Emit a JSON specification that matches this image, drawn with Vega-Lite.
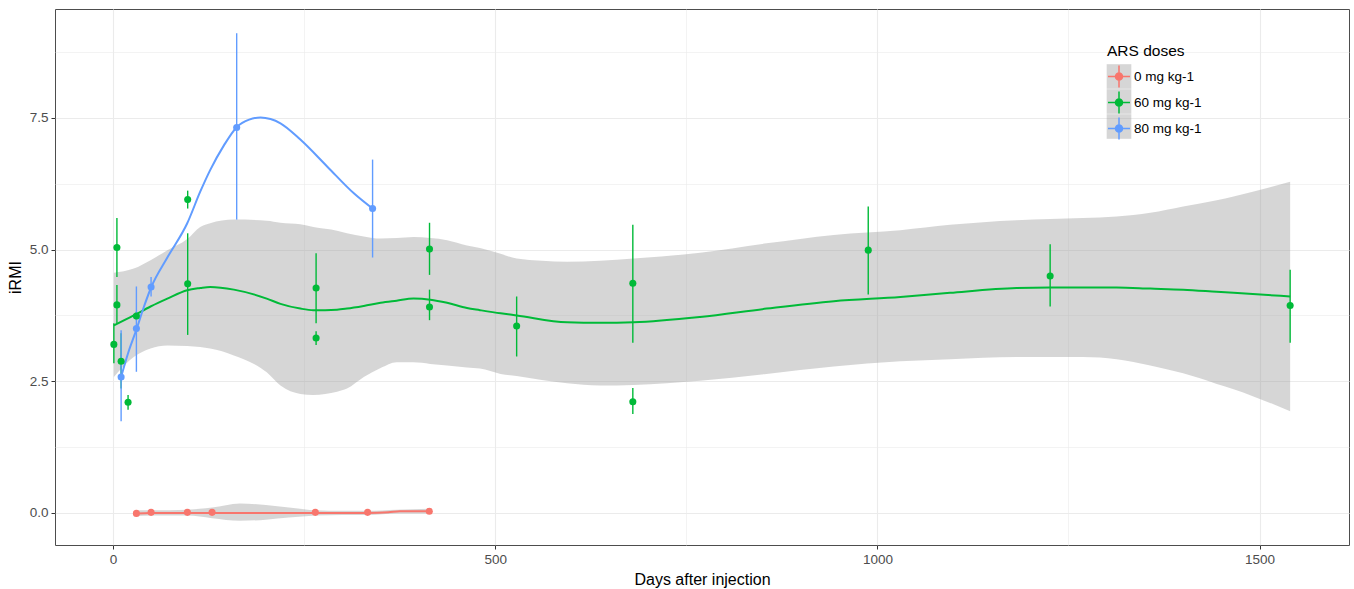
{
  "$schema": "https://vega.github.io/schema/vega-lite/v6.json",
  "width": 1294,
  "height": 536,
  "autosize": {"type": "none"},
  "padding": {"left": 55, "top": 9, "right": 5, "bottom": 44},
  "background": "white",
  "config": {
    "font": "Liberation Sans",
    "view": {"stroke": "#4d4d4d", "strokeWidth": 1}
  },
  "datasets": {
    "pts": [
      {"day": 30.5, "v": -0.01, "lo": -0.01, "hi": -0.01, "dose": "0 mg kg-1"},
      {"day": 49.7, "v": 0.01, "lo": 0.01, "hi": 0.01, "dose": "0 mg kg-1"},
      {"day": 97.2, "v": 0.01, "lo": 0.01, "hi": 0.01, "dose": "0 mg kg-1"},
      {"day": 129.5, "v": 0.01, "lo": 0.01, "hi": 0.01, "dose": "0 mg kg-1"},
      {"day": 264.6, "v": 0.01, "lo": 0.01, "hi": 0.01, "dose": "0 mg kg-1"},
      {"day": 333, "v": 0.01, "lo": 0.01, "hi": 0.01, "dose": "0 mg kg-1"},
      {"day": 413.7, "v": 0.03, "lo": 0.03, "hi": 0.03, "dose": "0 mg kg-1"},
      {"day": 1, "v": 3.20, "lo": 2.84, "hi": 3.60, "dose": "60 mg kg-1"},
      {"day": 5, "v": 3.95, "lo": 3.60, "hi": 4.33, "dose": "60 mg kg-1"},
      {"day": 5, "v": 5.04, "lo": 4.48, "hi": 5.60, "dose": "60 mg kg-1"},
      {"day": 10.5, "v": 2.88, "lo": 2.36, "hi": 3.41, "dose": "60 mg kg-1"},
      {"day": 19.6, "v": 2.10, "lo": 1.96, "hi": 2.24, "dose": "60 mg kg-1"},
      {"day": 30.5, "v": 3.74, "lo": 3.66, "hi": 3.82, "dose": "60 mg kg-1"},
      {"day": 97.6, "v": 5.95, "lo": 5.78, "hi": 6.12, "dose": "60 mg kg-1"},
      {"day": 97.6, "v": 4.35, "lo": 3.38, "hi": 5.31, "dose": "60 mg kg-1"},
      {"day": 265.6, "v": 4.27, "lo": 3.60, "hi": 4.93, "dose": "60 mg kg-1"},
      {"day": 265.6, "v": 3.32, "lo": 3.19, "hi": 3.45, "dose": "60 mg kg-1"},
      {"day": 414, "v": 5.01, "lo": 4.52, "hi": 5.51, "dose": "60 mg kg-1"},
      {"day": 414, "v": 3.91, "lo": 3.66, "hi": 4.24, "dose": "60 mg kg-1"},
      {"day": 528, "v": 3.55, "lo": 2.97, "hi": 4.11, "dose": "60 mg kg-1"},
      {"day": 680, "v": 4.36, "lo": 3.23, "hi": 5.47, "dose": "60 mg kg-1"},
      {"day": 680, "v": 2.11, "lo": 1.88, "hi": 2.37, "dose": "60 mg kg-1"},
      {"day": 988, "v": 4.99, "lo": 4.15, "hi": 5.82, "dose": "60 mg kg-1"},
      {"day": 1226, "v": 4.50, "lo": 3.92, "hi": 5.10, "dose": "60 mg kg-1"},
      {"day": 1540, "v": 3.94, "lo": 3.23, "hi": 4.62, "dose": "60 mg kg-1"},
      {"day": 10.5, "v": 2.58, "lo": 1.74, "hi": 3.47, "dose": "80 mg kg-1"},
      {"day": 30.5, "v": 3.50, "lo": 2.68, "hi": 4.30, "dose": "80 mg kg-1"},
      {"day": 49.7, "v": 4.29, "lo": 4.11, "hi": 4.48, "dose": "80 mg kg-1"},
      {"day": 161.7, "v": 7.32, "lo": 5.57, "hi": 9.11, "dose": "80 mg kg-1"},
      {"day": 339.5, "v": 5.78, "lo": 4.85, "hi": 6.71, "dose": "80 mg kg-1"}
    ],
    "fit": [
      {"day": 30.5, "fit": -0.01, "dose": "0 mg kg-1"},
      {"day": 50, "fit": 0.0, "dose": "0 mg kg-1"},
      {"day": 97, "fit": 0.0, "dose": "0 mg kg-1"},
      {"day": 130, "fit": 0.0, "dose": "0 mg kg-1"},
      {"day": 265, "fit": 0.0, "dose": "0 mg kg-1"},
      {"day": 333, "fit": 0.0, "dose": "0 mg kg-1"},
      {"day": 360, "fit": 0.01, "dose": "0 mg kg-1"},
      {"day": 375, "fit": 0.03, "dose": "0 mg kg-1"},
      {"day": 414, "fit": 0.03, "dose": "0 mg kg-1"},
      {"day": 1, "fit": 3.56, "dose": "60 mg kg-1"},
      {"day": 27, "fit": 3.75, "dose": "60 mg kg-1"},
      {"day": 49, "fit": 3.92, "dose": "60 mg kg-1"},
      {"day": 71, "fit": 4.07, "dose": "60 mg kg-1"},
      {"day": 97, "fit": 4.23, "dose": "60 mg kg-1"},
      {"day": 114, "fit": 4.27, "dose": "60 mg kg-1"},
      {"day": 127, "fit": 4.29, "dose": "60 mg kg-1"},
      {"day": 158, "fit": 4.24, "dose": "60 mg kg-1"},
      {"day": 201, "fit": 4.07, "dose": "60 mg kg-1"},
      {"day": 219, "fit": 3.97, "dose": "60 mg kg-1"},
      {"day": 245, "fit": 3.88, "dose": "60 mg kg-1"},
      {"day": 262, "fit": 3.85, "dose": "60 mg kg-1"},
      {"day": 293, "fit": 3.86, "dose": "60 mg kg-1"},
      {"day": 306, "fit": 3.88, "dose": "60 mg kg-1"},
      {"day": 328, "fit": 3.93, "dose": "60 mg kg-1"},
      {"day": 350, "fit": 3.99, "dose": "60 mg kg-1"},
      {"day": 371, "fit": 4.03, "dose": "60 mg kg-1"},
      {"day": 393, "fit": 4.07, "dose": "60 mg kg-1"},
      {"day": 415, "fit": 4.05, "dose": "60 mg kg-1"},
      {"day": 437, "fit": 3.99, "dose": "60 mg kg-1"},
      {"day": 463, "fit": 3.89, "dose": "60 mg kg-1"},
      {"day": 480, "fit": 3.85, "dose": "60 mg kg-1"},
      {"day": 507, "fit": 3.79, "dose": "60 mg kg-1"},
      {"day": 528, "fit": 3.75, "dose": "60 mg kg-1"},
      {"day": 594, "fit": 3.62, "dose": "60 mg kg-1"},
      {"day": 637, "fit": 3.61, "dose": "60 mg kg-1"},
      {"day": 681, "fit": 3.62, "dose": "60 mg kg-1"},
      {"day": 768, "fit": 3.72, "dose": "60 mg kg-1"},
      {"day": 855, "fit": 3.88, "dose": "60 mg kg-1"},
      {"day": 943, "fit": 4.02, "dose": "60 mg kg-1"},
      {"day": 1030, "fit": 4.10, "dose": "60 mg kg-1"},
      {"day": 1095, "fit": 4.18, "dose": "60 mg kg-1"},
      {"day": 1182, "fit": 4.27, "dose": "60 mg kg-1"},
      {"day": 1226, "fit": 4.28, "dose": "60 mg kg-1"},
      {"day": 1269, "fit": 4.28, "dose": "60 mg kg-1"},
      {"day": 1313, "fit": 4.28, "dose": "60 mg kg-1"},
      {"day": 1357, "fit": 4.26, "dose": "60 mg kg-1"},
      {"day": 1400, "fit": 4.24, "dose": "60 mg kg-1"},
      {"day": 1444, "fit": 4.20, "dose": "60 mg kg-1"},
      {"day": 1466, "fit": 4.18, "dose": "60 mg kg-1"},
      {"day": 1540, "fit": 4.11, "dose": "60 mg kg-1"},
      {"day": 10.5, "fit": 2.58, "dose": "80 mg kg-1"},
      {"day": 20, "fit": 3.05, "dose": "80 mg kg-1"},
      {"day": 30.5, "fit": 3.48, "dose": "80 mg kg-1"},
      {"day": 40, "fit": 3.90, "dose": "80 mg kg-1"},
      {"day": 50, "fit": 4.29, "dose": "80 mg kg-1"},
      {"day": 71, "fit": 4.85, "dose": "80 mg kg-1"},
      {"day": 97, "fit": 5.50, "dose": "80 mg kg-1"},
      {"day": 114, "fit": 6.10, "dose": "80 mg kg-1"},
      {"day": 127, "fit": 6.51, "dose": "80 mg kg-1"},
      {"day": 145, "fit": 6.98, "dose": "80 mg kg-1"},
      {"day": 162, "fit": 7.33, "dose": "80 mg kg-1"},
      {"day": 178, "fit": 7.47, "dose": "80 mg kg-1"},
      {"day": 193, "fit": 7.51, "dose": "80 mg kg-1"},
      {"day": 206, "fit": 7.48, "dose": "80 mg kg-1"},
      {"day": 219, "fit": 7.40, "dose": "80 mg kg-1"},
      {"day": 245, "fit": 7.09, "dose": "80 mg kg-1"},
      {"day": 280, "fit": 6.58, "dose": "80 mg kg-1"},
      {"day": 315, "fit": 6.07, "dose": "80 mg kg-1"},
      {"day": 339.5, "fit": 5.78, "dose": "80 mg kg-1"}
    ],
    "band": [
      {"day": 30.5, "lo": -0.06, "hi": 0.05, "group": "0"},
      {"day": 50, "lo": -0.05, "hi": 0.05, "group": "0"},
      {"day": 97, "lo": -0.05, "hi": 0.06, "group": "0"},
      {"day": 129.5, "lo": -0.10, "hi": 0.10, "group": "0"},
      {"day": 166, "lo": -0.15, "hi": 0.18, "group": "0"},
      {"day": 200, "lo": -0.13, "hi": 0.15, "group": "0"},
      {"day": 230, "lo": -0.09, "hi": 0.10, "group": "0"},
      {"day": 265, "lo": -0.05, "hi": 0.05, "group": "0"},
      {"day": 300, "lo": -0.04, "hi": 0.04, "group": "0"},
      {"day": 333, "lo": -0.04, "hi": 0.04, "group": "0"},
      {"day": 371, "lo": -0.01, "hi": 0.06, "group": "0"},
      {"day": 414, "lo": -0.01, "hi": 0.08, "group": "0"},
      {"day": 1, "lo": 2.58, "hi": 4.56, "group": "60"},
      {"day": 27, "lo": 2.96, "hi": 4.64, "group": "60"},
      {"day": 49, "lo": 3.12, "hi": 4.80, "group": "60"},
      {"day": 71, "lo": 3.18, "hi": 4.99, "group": "60"},
      {"day": 97, "lo": 3.17, "hi": 5.20, "group": "60"},
      {"day": 114, "lo": 3.15, "hi": 5.43, "group": "60"},
      {"day": 127, "lo": 3.12, "hi": 5.50, "group": "60"},
      {"day": 158, "lo": 2.99, "hi": 5.57, "group": "60"},
      {"day": 201, "lo": 2.67, "hi": 5.55, "group": "60"},
      {"day": 219, "lo": 2.42, "hi": 5.51, "group": "60"},
      {"day": 245, "lo": 2.26, "hi": 5.48, "group": "60"},
      {"day": 262, "lo": 2.24, "hi": 5.43, "group": "60"},
      {"day": 293, "lo": 2.30, "hi": 5.36, "group": "60"},
      {"day": 306, "lo": 2.36, "hi": 5.31, "group": "60"},
      {"day": 328, "lo": 2.58, "hi": 5.25, "group": "60"},
      {"day": 350, "lo": 2.75, "hi": 5.21, "group": "60"},
      {"day": 371, "lo": 2.86, "hi": 5.22, "group": "60"},
      {"day": 393, "lo": 2.86, "hi": 5.24, "group": "60"},
      {"day": 415, "lo": 2.83, "hi": 5.22, "group": "60"},
      {"day": 437, "lo": 2.80, "hi": 5.18, "group": "60"},
      {"day": 463, "lo": 2.76, "hi": 5.08, "group": "60"},
      {"day": 480, "lo": 2.74, "hi": 5.03, "group": "60"},
      {"day": 507, "lo": 2.64, "hi": 4.92, "group": "60"},
      {"day": 528, "lo": 2.60, "hi": 4.83, "group": "60"},
      {"day": 594, "lo": 2.46, "hi": 4.77, "group": "60"},
      {"day": 637, "lo": 2.42, "hi": 4.79, "group": "60"},
      {"day": 681, "lo": 2.43, "hi": 4.83, "group": "60"},
      {"day": 768, "lo": 2.51, "hi": 4.94, "group": "60"},
      {"day": 855, "lo": 2.64, "hi": 5.12, "group": "60"},
      {"day": 943, "lo": 2.78, "hi": 5.28, "group": "60"},
      {"day": 1030, "lo": 2.88, "hi": 5.37, "group": "60"},
      {"day": 1095, "lo": 2.92, "hi": 5.47, "group": "60"},
      {"day": 1182, "lo": 2.96, "hi": 5.56, "group": "60"},
      {"day": 1226, "lo": 2.96, "hi": 5.58, "group": "60"},
      {"day": 1269, "lo": 2.96, "hi": 5.60, "group": "60"},
      {"day": 1313, "lo": 2.92, "hi": 5.63, "group": "60"},
      {"day": 1357, "lo": 2.80, "hi": 5.70, "group": "60"},
      {"day": 1400, "lo": 2.65, "hi": 5.82, "group": "60"},
      {"day": 1444, "lo": 2.45, "hi": 5.94, "group": "60"},
      {"day": 1466, "lo": 2.35, "hi": 6.01, "group": "60"},
      {"day": 1540, "lo": 1.93, "hi": 6.29, "group": "60"}
    ]
  },
  "resolve": {"axis": {"x": "independent", "y": "independent"}},
  "layer": [
    {
      "data": {"name": "band"},
      "mark": {"type": "area", "opacity": 0.4, "interpolate": "monotone"},
      "encoding": {
        "x": {"field": "day", "type": "quantitative",
          "scale": {"domain": [-76, 1617], "nice": false, "zero": false},
          "axis": {"orient": "bottom", "values": [250, 750, 1250], "grid": true, "gridColor": "#ebebeb", "gridWidth": 0.6, "labels": false, "ticks": false, "domain": false, "title": null}},
        "y": {"field": "lo", "type": "quantitative",
          "scale": {"domain": [-0.61, 9.57], "nice": false, "zero": false},
          "axis": {"orient": "left", "values": [1.25, 3.75, 6.25, 8.75], "grid": true, "gridColor": "#ebebeb", "gridWidth": 0.6, "labels": false, "ticks": false, "domain": false, "title": null}},
        "y2": {"field": "hi"},
        "fill": {"field": "group", "type": "nominal",
          "scale": {"domain": ["0", "60", "80"], "range": ["#999999", "#999999", "#999999"]},
          "legend": {
            "orient": "none", "legendX": 1052, "legendY": 35, "zindex": 0,
            "title": "ARS doses", "titleFontSize": 15.5, "titleFontWeight": "normal", "titleColor": "transparent", "titlePadding": 5,
            "labelFontSize": 13.5, "labelColor": "transparent", "labelOffset": 3, "labelExpr": "''",
            "symbolType": "M-1.12,-1.12H1.12V1.12H-1.12Z", "symbolSize": 484, "rowPadding": -5, "padding": 0,
            "symbolStrokeWidth": 1.5,
            "encode": {"symbols": {"update": {"fill": {"value": "#d4d4d4"}, "stroke": {"value": "#c4c4c4"}, "strokeWidth": {"value": 1}, "opacity": {"value": 1}, "fillOpacity": {"value": 1}}}}
          }
        }
      }
    },
    {
      "data": {"name": "fit"},
      "mark": {"type": "line", "strokeWidth": 2, "interpolate": "monotone"},
      "encoding": {
        "x": {"field": "day", "type": "quantitative", "axis": null},
        "y": {"field": "fit", "type": "quantitative", "axis": null},
        "color": {"field": "dose", "type": "nominal"}
      }
    },
    {
      "data": {"name": "pts"},
      "mark": {"type": "rule", "strokeWidth": 1.4},
      "encoding": {
        "x": {"field": "day", "type": "quantitative", "axis": null},
        "y": {"field": "lo", "type": "quantitative", "axis": null},
        "y2": {"field": "hi"},
        "color": {"field": "dose", "type": "nominal"}
      }
    },
    {
      "data": {"name": "pts"},
      "mark": {"type": "circle", "size": 50, "opacity": 1},
      "encoding": {
        "x": {"field": "day", "type": "quantitative",
          "axis": {"orient": "bottom", "values": [0, 500, 1000, 1500], "format": "d", "grid": true, "gridColor": "#ebebeb", "gridWidth": 1.1,
            "domain": false, "tickColor": "#333333", "tickSize": 4, "tickWidth": 1, "labelPadding": 3,
            "labelColor": "#4d4d4d", "labelFontSize": 13.5, "labelFont": "Liberation Sans",
            "title": "Days after injection", "titleFontSize": 16, "titleFontWeight": "normal", "titleColor": "#000000", "titlePadding": 6, "titleFont": "Liberation Sans"}},
        "y": {"field": "v", "type": "quantitative",
          "axis": {"orient": "left", "values": [0, 2.5, 5, 7.5], "format": ".1f", "grid": true, "gridColor": "#ebebeb", "gridWidth": 1.1,
            "domain": false, "tickColor": "#333333", "tickSize": 4, "tickWidth": 1, "labelPadding": 3,
            "labelColor": "#4d4d4d", "labelFontSize": 13.5, "labelFont": "Liberation Sans",
            "title": "iRMI", "titleFontSize": 16, "titleFontWeight": "normal", "titleColor": "#000000", "titlePadding": 6, "titleFont": "Liberation Sans"}},
        "color": {"field": "dose", "type": "nominal",
          "scale": {"domain": ["0 mg kg-1", "60 mg kg-1", "80 mg kg-1"], "range": ["#F8766D", "#00BA38", "#619CFF"]},
          "legend": {
            "orient": "none", "legendX": 1052, "legendY": 35, "zindex": 1,
            "title": "ARS doses", "titleFontSize": 15.5, "titleFontWeight": "normal", "titleColor": "#000000", "titlePadding": 5,
            "labelFontSize": 13.5, "labelColor": "#000000", "labelOffset": 3,
            "symbolType": "M-1,0H1M0,-1V1M0.32,0A0.32,0.32,0,1,1,-0.32,0A0.32,0.32,0,1,1,0.32,0Z",
            "symbolSize": 484, "rowPadding": -5, "padding": 0, "symbolStrokeWidth": 1.5,
            "encode": {"symbols": {"update": {"fill": {"scale": "color", "field": "value"}, "stroke": {"scale": "color", "field": "value"}, "opacity": {"value": 1}, "fillOpacity": {"value": 1}}}}
          }
        }
      }
    }
  ]
}
